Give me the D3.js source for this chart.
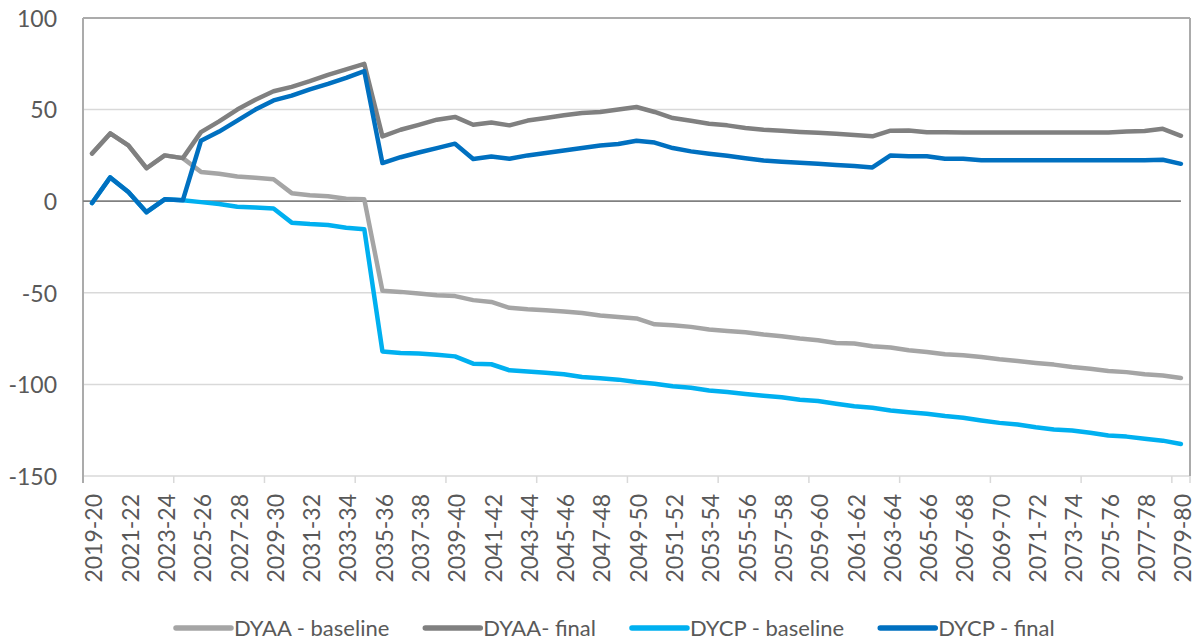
<!DOCTYPE html>
<html>
<head>
<meta charset="utf-8">
<script src="https://cdn.jsdelivr.net/npm/d3@7"></script>
<style>
  html, body { margin: 0; padding: 0; background: #fff; }
  svg { display: block; }
  text { font-family: Lato, "Open Sans", sans-serif; fill: #595959; }
</style>
</head>
<body>
<svg id="chart" width="1198" height="642"></svg>
<script>
const categories = ["2019-20","2020-21","2021-22","2022-23","2023-24","2024-25","2025-26","2026-27","2027-28","2028-29",
  "2029-30","2030-31","2031-32","2032-33","2033-34","2034-35","2035-36","2036-37","2037-38","2038-39",
  "2039-40","2040-41","2041-42","2042-43","2043-44","2044-45","2045-46","2046-47","2047-48","2048-49",
  "2049-50","2050-51","2051-52","2052-53","2053-54","2054-55","2055-56","2056-57","2057-58","2058-59",
  "2059-60","2060-61","2061-62","2062-63","2063-64","2064-65","2065-66","2066-67","2067-68","2068-69",
  "2069-70","2070-71","2071-72","2072-73","2073-74","2074-75","2075-76","2076-77","2077-78","2078-79","2079-80"];

const dyaaBaseline = [26,37,30.5,18,25,23.5,16,15,13.5,12.8,
  12,4.4,3.3,2.7,1.3,1,-48.9,-49.5,-50.4,-51.3,
  -51.8,-54,-55,-58.2,-59,-59.5,-60.2,-61,-62.4,-63.2,
  -64,-67.2,-67.7,-68.6,-70,-70.8,-71.5,-72.8,-73.7,-75,
  -75.9,-77.4,-77.7,-79.2,-79.9,-81.4,-82.3,-83.6,-84.1,-85,
  -86.3,-87.2,-88.3,-89.2,-90.5,-91.4,-92.7,-93.3,-94.5,-95.1,-96.5];

const dyaaFinal = [26,37,30.5,18,25,23.5,37.7,43.6,50,55.4,
  60,62.4,65.5,69,72,75,35.4,39,41.7,44.5,
  46,41.7,43,41.4,44,45.4,46.9,48.2,48.7,50,
  51.4,48.7,45.4,43.9,42.3,41.4,40,39,38.5,37.8,
  37.3,36.8,36.2,35.4,38.5,38.6,37.6,37.6,37.5,37.5,
  37.5,37.5,37.5,37.5,37.5,37.5,37.5,38,38.3,39.5,35.7];

const dycpBaseline = [-1,13,5,-6,1,0.5,-0.5,-1.5,-3,-3.5,
  -4,-11.7,-12.5,-13,-14.5,-15.3,-82,-82.8,-83.2,-83.8,
  -84.7,-88.7,-89,-92.3,-92.9,-93.6,-94.5,-96,-96.7,-97.4,
  -98.7,-99.6,-101,-101.8,-103.3,-104.2,-105.3,-106.2,-107,-108.4,
  -109.1,-110.6,-111.9,-112.8,-114.2,-115.2,-116,-117.3,-118.2,-119.7,
  -121,-121.9,-123.4,-124.6,-125.2,-126.4,-127.9,-128.5,-129.7,-130.7,-132.5];

const dycpFinal = [-1,13,5,-6,1,0.5,33,38,44,50,
  55,57.6,61,64,67.3,71,20.8,24,26.6,29,
  31.4,23,24.4,23.2,25,26.3,27.7,29,30.4,31.2,
  33,32,29,27.2,25.9,24.8,23.5,22.2,21.5,21,
  20.4,19.8,19.2,18.4,25,24.6,24.5,23.2,23.2,22.4,
  22.4,22.4,22.4,22.4,22.4,22.4,22.4,22.4,22.4,22.6,20.4];

const seriesNames = ["DYAA - baseline", "DYAA- final", "DYCP - baseline", "DYCP - final"];
const seriesColors = ["#A5A5A5", "#808080", "#00B0F0", "#0070C0"];
const yTicks = [-150, -100, -50, 0, 50, 100];

const series = [dyaaBaseline, dyaaFinal, dycpBaseline, dycpFinal].map((vals, k) => ({
  name: seriesNames[k], color: seriesColors[k], values: vals
}));

(function draw() {
const svg = d3.select("#chart");
const pL = 83, pR = 1190, pT = 18, pB = 476;

const x = d3.scaleBand().domain(categories).range([pL, pR]).padding(0);
const y = d3.scaleLinear().domain([-150, 100]).range([pB, pT]);
const cx = c => x(c) + x.bandwidth() / 2;

// gridlines
svg.append("g").selectAll("line").data(yTicks.filter(t => t !== 0 && t !== 100 && t !== -150)).join("line")
  .attr("x1", pL).attr("x2", pR)
  .attr("y1", d => y(d)).attr("y2", d => y(d))
  .attr("stroke", "#D9D9D9").attr("stroke-width", 1.5);

// bottom line at -150 with ticks every 5 categories
const bottomAxis = d3.axisBottom(x)
  .tickValues(categories.filter((c, i) => i % 5 === 0))
  .tickSize(7).tickFormat("").tickSizeOuter(0).offset(0);
const bg = svg.append("g").attr("transform", `translate(0,${y(-150)})`).call(bottomAxis);
bg.select(".domain").attr("stroke", "#D9D9D9").attr("stroke-width", 1.5);
bg.selectAll(".tick line").attr("stroke", "#D9D9D9").attr("stroke-width", 1.5)
  .attr("transform", `translate(${-x.bandwidth() / 2},0)`);
bg.append("line").attr("x1", pR).attr("x2", pR).attr("y1", 0).attr("y2", 7)
  .attr("stroke", "#D9D9D9").attr("stroke-width", 1.5);

// plot frame: top, left, right
svg.append("line").attr("x1", pL).attr("x2", pR).attr("y1", y(100)).attr("y2", y(100))
  .attr("stroke", "#ABABAB").attr("stroke-width", 2);
svg.append("line").attr("x1", pL).attr("x2", pL).attr("y1", y(100)).attr("y2", y(-150) + 7)
  .attr("stroke", "#ABABAB").attr("stroke-width", 2);
svg.append("line").attr("x1", pR).attr("x2", pR).attr("y1", y(100)).attr("y2", y(-150))
  .attr("stroke", "#ABABAB").attr("stroke-width", 2);

// zero line
svg.append("line").attr("x1", pL).attr("x2", cx(categories[categories.length - 1]))
  .attr("y1", y(0)).attr("y2", y(0))
  .attr("stroke", "#808080").attr("stroke-width", 1.8);

// y axis labels (plain hyphen-minus as in the reference)
const leftAxis = d3.axisLeft(y).tickValues(yTicks).tickSize(0).tickPadding(0)
  .tickFormat(d => String(d));
const lg = svg.append("g").attr("transform", `translate(57,0)`).call(leftAxis);
lg.select(".domain").remove();
lg.selectAll(".tick text").attr("font-family", "Lato, sans-serif").attr("font-size", 23)
  .attr("fill", "#595959").attr("dy", "0.36em").attr("x", 0);

// x axis labels (every other category)
svg.append("g").selectAll("text")
  .data(categories.filter((c, i) => i % 2 === 0)).join("text")
  .attr("transform", d => `translate(${cx(d) + 2},494) rotate(-90)`)
  .attr("text-anchor", "end").attr("dy", "0.36em")
  .attr("font-size", 23).attr("fill", "#595959")
  .text(d => d);

// lines
const line = d3.line().x((d, i) => cx(categories[i])).y(d => y(d));
svg.append("g").selectAll("path").data(series).join("path")
  .attr("d", d => line(d.values))
  .attr("fill", "none").attr("stroke", d => d.color)
  .attr("stroke-width", 4.5).attr("stroke-linejoin", "round").attr("stroke-linecap", "round");

// legend
const legend = svg.append("g");
let lx = 176;
const ly = 628;
series.forEach(s => {
  const g = legend.append("g");
  g.append("line").attr("x1", lx).attr("x2", lx + 55).attr("y1", ly).attr("y2", ly)
    .attr("stroke", s.color).attr("stroke-width", 5.5).attr("stroke-linecap", "round");
  const t = g.append("text").attr("x", lx + 58).attr("y", ly).attr("dy", "0.36em")
    .attr("font-size", 22).attr("fill", "#595959").text(s.name);
  const w = t.node().getComputedTextLength();
  lx = lx + 58 + w + 36;
});
})();
</script>
</body>
</html>
